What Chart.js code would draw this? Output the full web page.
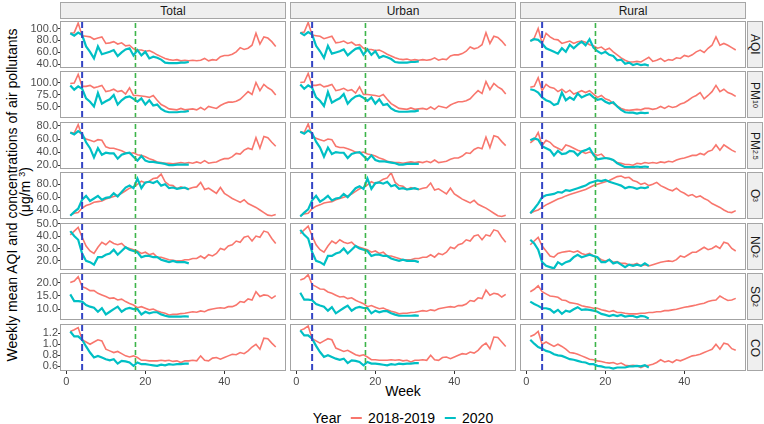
<!DOCTYPE html>
<html>
<head>
<meta charset="utf-8">
<script src="https://cdn.jsdelivr.net/npm/chart.js@4.4.1/dist/chart.umd.min.js"></script>
<style>
  body { margin: 0; width: 764px; height: 424px; background: #fff; position: relative; overflow: hidden;
         font-family: 'Liberation Sans', Arial, sans-serif; color: #000; }
  canvas { position: absolute; }
  .strip { position: absolute; background: #EFEFEF; border: 1px solid #A6A6A6; box-sizing: border-box;
           color: #1A1A1A; font-size: 12px; display: flex; align-items: center; justify-content: center; }
  .strip.side { writing-mode: vertical-rl; }
  .strip sub { font-size: 7px; }
  .title { position: absolute; transform: translate(-50%, -50%); white-space: nowrap; font-size: 14px; line-height: 16px; }
  .rot { transform: translate(-50%, -50%) rotate(-90deg); }
  .sup { position: relative; top: -5px; font-size: 9px; }
  #legend { position: absolute; left: 403px; top: 418px; transform: translate(-50%, -50%); display: flex;
            align-items: center; font-size: 14px; white-space: nowrap; }
  #legend .key { display: inline-block; width: 11px; height: 2px; margin: 0 6px 0 10px; }
</style>
</head>
<body>
<div class="title rot" style="left:12px; top:195px;">Weekly mean AQI and concentrations of air pollutants</div>
<div class="title rot" style="left:26px; top:192px;">(μg/m <span class="sup">3</span>)</div>
<div class="title" style="left:403px; top:391px;">Week</div>
<div id="legend"></div>
<script>
const areas = ['Total', 'Urban', 'Rural'];
const pollutants = ['AQI', 'PM10', 'PM2.5', 'O3', 'NO2', 'SO2', 'CO'];
const years = ['2018-2019', '2020'];
const weekTicks = [0, 20, 40];
const eventWeeks = [4, 17.5];

const aqiTicks = [40, 60, 80, 100];
const pm10Ticks = [50, 75, 100];
const pm25Ticks = [20, 40, 60, 80];
const o3Ticks = [40, 60, 80];
const no2Ticks = [20, 30, 40, 50];
const so2Ticks = [10, 15, 20];
const coTicks = [0.6, 0.8, 1.0, 1.2];

// weekly means, week 1..53 (2018-2019) and week 1..31 (2020)
const totalAqi19 = [92,93,109,88,87,86,82,84,86,75, 76,78,74,76,71,72,66,64,64,62, 63,60,56,53,50,48,47,48,46,47, 46,47,46,47,50,46,48,47,53,55, 55,57,61,68,65,67,72,92,74,86, 84,78,70];
const totalAqi20 = [92,88,93,89,70,61,50,70,57,59, 61,64,54,60,65,67,55,64,55,61, 50,53,51,48,43,42,42,42,43,43, 44];
const totalPm1019 = [99,100,118,93,93,95,90,92,95,82, 84,87,82,84,77,90,74,74,73,72, 70,74,64,55,51,46,45,44,47,44, 45,46,44,49,44,51,49,47,53,57, 60,60,62,66,74,82,76,101,84,97, 90,85,75];
const totalPm1020 = [95,86,93,88,68,61,51,79,57,62, 66,75,55,64,70,72,67,61,68,55, 64,53,55,46,41,39,39,39,40,40, 42];
const totalPm2519 = [70,69,82,64,60,58,56,59,58,48, 46,46,44,42,39,38,39,36,35,33, 30,28,25,24,23,23,22,23,24,23, 24,23,25,23,27,23,24,25,28,30, 30,33,38,37,43,46,44,62,46,64, 62,55,49];
const totalPm2520 = [70,67,72,68,55,46,32,46,36,39, 38,38,30,36,38,39,33,27,34,27, 25,25,24,23,22,20,20,21,21,21, 21];
const totalO319 = [32,35,36,43,47,49,52,53,54,57, 59,61,63,66,70,74,76,80,85,82, 85,89,90,96,84,79,78,73,76,74, 73,75,76,83,72,74,70,66,75,66, 62,58,55,52,56,50,47,44,40,36, 32,31,33];
const totalO320 = [31,37,42,56,62,54,58,62,56,59, 60,66,61,68,75,78,74,89,74,83, 84,82,85,78,80,74,75,73,74,75, 72];
const totalNo219 = [41,44,47,39,32,28,26,31,35,33, 36,34,33,34,31,30,29,28,26,27, 25,26,23,23,22,21,20.5,20,20,21, 21,22,22,24,22,25,24,26,30,29, 32,33,36,35,39,40,36,40,39,44, 43,38,34];
const totalNo220 = [44,40,37,26,20,19,17,23,23,25, 26,29,25,28,31,29,28,27,23,24, 24,23,23,21,20,19,20,19,19,19, 18];
const totalSo219 = [20,20.6,22.2,18.5,17.9,17,17,16,15.4,14.8, 14.1,14.3,13.5,13.8,12.9,12.2,11.6,10.6,11,10.4, 9.8,10.1,9.4,8.9,8.5,7.9,8.1,8.1,8.4,8.5, 8.8,9.1,8.9,9.4,9.1,9.8,10.1,10.4,10.6,10.4, 11,11,11.6,12.9,12.6,13.9,13.5,16.6,14.8,15.4, 15.2,14.1,15.1];
const totalSo220 = [15.6,13.1,13.1,12.9,11.6,11,10.6,9.1,10.4,8.1, 9.1,10.1,11,9.1,10.1,10.5,10.1,10.1,8.1,9.1, 8.5,8.9,8.9,8.1,7.6,7.3,7.3,7.3,7.3,7.4, 7.3];
const totalCo19 = [1.23,1.26,1.30,1.08,1.04,1.0,1.04,1.08,1.06,0.91, 0.88,0.85,0.87,0.83,0.79,0.77,0.79,0.76,0.71,0.71, 0.70,0.70,0.70,0.71,0.70,0.71,0.69,0.70,0.67,0.70, 0.70,0.71,0.70,0.79,0.71,0.70,0.75,0.76,0.73,0.76, 0.79,0.82,0.81,0.85,0.83,0.88,0.95,1.0,0.91,1.11, 1.10,1.02,0.95];
const totalCo20 = [1.23,1.14,1.14,1.08,0.96,0.85,0.76,0.79,0.76,0.73, 0.71,0.73,0.65,0.70,0.69,0.67,0.61,0.67,0.64,0.64, 0.63,0.62,0.61,0.63,0.62,0.64,0.63,0.64,0.64,0.65, 0.65];

const urbanAqi19 = [93,94,110,89,88,87,83,85,87,76, 77,79,75,77,72,73,67,65,65,63, 64,61,57,54,51,49,48,49,47,48, 47,48,47,48,51,47,49,48,54,56, 56,58,62,69,66,68,73,93,75,87, 85,79,71];
const urbanAqi20 = [93,89,94,90,71,62,51,71,58,60, 62,65,55,61,66,68,56,65,56,62, 51,54,52,49,44,43,43,43,44,44, 45];
const urbanPm1019 = [101,102,120,95,95,97,92,94,97,84, 86,89,84,86,79,92,76,76,75,74, 72,76,66,57,52,47,46,45,48,45, 46,47,45,50,45,52,50,48,54,58, 61,61,63,67,76,84,78,103,86,99, 92,87,77];
const urbanPm1020 = [97,88,95,90,70,63,52,81,59,64, 68,77,57,66,72,74,69,63,70,57, 66,54,56,47,42,40,40,40,41,41, 43];
const urbanPm2519 = [71,70,83,65,61,59,57,60,59,49, 47,47,45,43,40,39,40,37,36,34, 31,29,26,25,24,24,23,24,25,24, 25,24,26,24,28,24,25,26,29,31, 31,34,39,38,44,47,45,63,47,65, 63,56,50];
const urbanPm2520 = [71,68,73,69,56,47,33,47,37,40, 39,39,31,37,39,40,34,28,35,28, 26,26,25,24,23,21,21,22,22,22, 22];
const urbanO319 = [31,34,35,42,46,48,51,52,53,56, 58,60,62,65,69,73,75,79,84,81, 84,88,90,98,83,78,77,72,75,73, 72,74,75,82,71,73,69,65,74,65, 61,57,54,51,55,49,46,43,39,35, 31,30,32];
const urbanO320 = [30,36,41,55,62,53,57,62,55,58, 59,65,60,67,74,77,73,89,73,82, 83,81,84,77,79,73,74,72,73,74, 72];
const urbanNo219 = [42,45,48,40,33,29,27,32,36,34, 37,35,34,35,32,31,30,29,27,28, 26,27,24,24,23,22,21,21,21,22, 22,23,23,25,23,26,25,27,31,30, 33,34,37,36,40,41,37,41,40,45, 44,39,35];
const urbanNo220 = [45,41,38,27,20,19,17,24,24,26, 27,30,26,29,32,30,29,28,24,25, 25,24,24,22,21,20,21,20,20,20, 19];
const urbanSo219 = [21,21.5,23,19.2,18.5,17.6,17.5,16.5,16,15.3, 14.6,14.8,14,14.3,13.4,12.7,12.1,11,11.4,10.8, 10.2,10.5,9.8,9.3,8.9,8.3,8.5,8.5,8.8,8.9, 9.2,9.5,9.3,9.8,9.5,10.2,10.5,10.8,11,10.8, 11.4,11.4,12,13.3,13,14.3,14,17.2,15.3,16, 15.7,14.6,15.6];
const urbanSo220 = [16.2,13.6,13.6,13.4,12,11.4,11,9.5,10.8,8.5, 9.5,10.5,11.4,9.5,10.5,10.9,10.5,10.5,8.5,9.5, 8.9,9.3,9.3,8.5,8,7.6,7.6,7.6,7.6,7.7, 7.6];
const urbanCo19 = [1.25,1.28,1.33,1.10,1.06,1.02,1.06,1.10,1.08,0.93, 0.90,0.87,0.89,0.85,0.81,0.79,0.81,0.77,0.72,0.72, 0.71,0.71,0.71,0.72,0.71,0.72,0.70,0.71,0.68,0.71, 0.71,0.72,0.71,0.80,0.72,0.71,0.76,0.77,0.74,0.77, 0.80,0.83,0.82,0.86,0.84,0.89,0.97,1.02,0.92,1.13, 1.12,1.04,0.96];
const urbanCo20 = [1.25,1.16,1.16,1.10,0.97,0.86,0.77,0.80,0.77,0.74, 0.72,0.74,0.66,0.71,0.70,0.68,0.62,0.68,0.65,0.65, 0.64,0.63,0.62,0.64,0.63,0.65,0.64,0.65,0.65,0.66, 0.66];

const ruralAqi19 = [79,84,100,75,92,86,82,81,75,77, 79,75,78,79,77,73,71,67,69,64, 67,61,56,51,47,44,44,45,44,48, 52,45,47,50,45,48,47,51,50,55, 53,56,61,64,60,67,72,86,72,75, 72,68,64];
const ruralAqi20 = [79,82,81,75,67,64,61,58,67,61, 73,67,73,78,72,82,68,62,58,61, 56,54,47,48,41,43,39,41,39,40, 38];
const ruralPm1019 = [91,93,111,84,97,91,89,82,87,80, 85,77,80,84,80,84,77,70,74,67, 64,57,52,47,44,43,44,45,44,47, 47,45,47,51,47,52,49,51,56,59, 64,70,74,80,67,74,82,95,82,87, 80,77,72];
const ruralPm1020 = [87,85,80,70,64,61,54,57,80,64, 70,65,78,70,74,77,70,65,67,61, 57,60,51,44,39,38,38,36,38,37, 38];
const ruralPm2519 = [54,59,70,50,58,55,49,46,43,51, 49,46,43,41,38,40,38,35,37,31, 30,28,24,23,21,21,20,23,22,24, 23,24,23,25,24,26,25,28,30,31, 33,35,35,38,36,41,43,51,43,51, 47,43,40];
const ruralPm2520 = [58,61,59,49,46,43,35,42,37,38, 42,41,35,41,43,46,36,29,30,31, 30,28,23,20,17,17,17,18,17,18, 17];
const ruralO319 = [35,38,40,44,48,51,54,57,59,62, 64,66,68,70,72,75,78,80,82,84, 86,89,92,93,90,91,86,84,80,82, 78,80,83,78,75,72,70,74,69,66, 62,64,60,62,58,55,50,47,44,40, 37,36,39];
const ruralO320 = [35,42,50,60,63,64,65,68,67,71, 70,72,74,76,78,82,84,86,85,87, 84,82,80,78,74,76,75,73,75,74, 76];
const ruralNo219 = [33,36,39,32,28,24,23,26,27,27.5, 28,27,28,26,25,26,24,23,21,20, 21,19,19.5,18,18,17,17,18,16,17, 16,17,18,19,19.5,20,19.5,21,24,23, 25,27,27,29,31,29,30,32,30,35, 34,30,28];
const ruralNo220 = [37,34,29,19,16,15,14,19,17,19, 20,23,25,23,24,25,24,23,19,19, 21,18,19,17,15,17,16,17,16,18, 16];
const ruralSo219 = [16.6,17.5,18.8,16.6,15.8,15,14.8,14.5,13.5,13.3, 12.5,12.3,12,11.3,11,10.8,10.4,10.4,9.8,9.5, 9.1,9.5,8.8,8.8,8.5,8.3,8.3,8.3,8.5,8.5, 8.8,8.8,9.1,9.1,9.5,9.5,9.8,10,10.4,10.8, 11,11.3,11.6,12,12.3,12.9,13.3,13.5,15,14.1, 13.3,13.5,14.1];
const ruralSo220 = [12.9,12,11.3,10.4,10.4,10,8.8,9.8,8.3,9.5, 9.1,10,10.8,9.8,10,9.8,9.5,9.1,8.3,7.9, 7.5,7.9,7.5,7.9,7.3,7.5,7.5,7,7.5,7.3, 6.6];
const ruralCo19 = [1.14,1.17,1.23,1.0,1.04,1.0,0.96,1.0,0.96,0.91, 0.85,0.84,0.82,0.79,0.76,0.73,0.72,0.70,0.69,0.67, 0.66,0.67,0.64,0.66,0.62,0.61,0.62,0.61,0.58,0.61, 0.62,0.64,0.67,0.72,0.68,0.70,0.67,0.72,0.70,0.73, 0.76,0.79,0.80,0.82,0.85,0.88,0.91,1.0,0.91,1.02, 1.0,0.92,0.89];
const ruralCo20 = [1.08,1.01,0.95,0.92,0.88,0.86,0.82,0.80,0.79,0.76, 0.73,0.72,0.70,0.68,0.67,0.64,0.64,0.61,0.60,0.58, 0.58,0.56,0.58,0.58,0.58,0.60,0.60,0.61,0.60,0.62, 0.58];

// lookup tables built from the arrays above
const yTicks = [aqiTicks, pm10Ticks, pm25Ticks, o3Ticks, no2Ticks, so2Ticks, coTicks];
const series = {
  Total: [[totalAqi19, totalAqi20], [totalPm1019, totalPm1020], [totalPm2519, totalPm2520], [totalO319, totalO320],
          [totalNo219, totalNo220], [totalSo219, totalSo220], [totalCo19, totalCo20]],
  Urban: [[urbanAqi19, urbanAqi20], [urbanPm1019, urbanPm1020], [urbanPm2519, urbanPm2520], [urbanO319, urbanO320],
          [urbanNo219, urbanNo220], [urbanSo219, urbanSo220], [urbanCo19, urbanCo20]],
  Rural: [[ruralAqi19, ruralAqi20], [ruralPm1019, ruralPm1020], [ruralPm2519, ruralPm2520], [ruralO319, ruralO320],
          [ruralNo219, ruralNo220], [ruralSo219, ruralSo220], [ruralCo19, ruralCo20]]
};

// layout
const colLeft = [60, 290, 520];
const plotW = 226, plotH = 47;
const rowTop = r => Math.round(20.5 + r * 50.55);
const yRange = [[34, 112.5], [27, 125], [14.2, 86], [26, 99.2], [12.7, 50.5], [6, 23.6], [0.517, 1.365]];
const PAD = 6;
const RED = '#F8766D', CYAN = '#00BFC4';
const tickFont = { family: "'Liberation Sans', Arial, sans-serif", size: 11 };

const panelBorder = {
  id: 'panelBorder',
  afterDraw(chart) {
    const { ctx, chartArea: a } = chart;
    ctx.save();
    ctx.strokeStyle = '#A3A3A3';
    ctx.lineWidth = 1;
    ctx.strokeRect(Math.round(a.left) + 0.5, Math.round(a.top) + 0.5, Math.round(a.width) - 1, Math.round(a.height) - 1);
    ctx.restore();
  }
};

function addStrip(html, left, top, width, height, side) {
  const d = document.createElement('div');
  d.className = 'strip' + (side ? ' side' : '');
  d.style.left = left + 'px'; d.style.top = top + 'px';
  d.style.width = width + 'px'; d.style.height = height + 'px';
  d.innerHTML = html;
  document.body.appendChild(d);
}

areas.forEach((area, c) => addStrip(area, colLeft[c], 2, plotW, 17, false));
pollutants.forEach((p, r) => addStrip(p.replace(/^([A-Z]+)([\d.]+)$/, '$1<sub>$2</sub>'), 747, rowTop(r), 16, plotH, true));

areas.forEach((area, c) => pollutants.forEach((pol, r) => {
  const isLeft = c === 0, isBottom = r === pollutants.length - 1;
  const [ymin, ymax] = yRange[r];
  const [old, cur] = series[area][r];
  const cv = document.createElement('canvas');
  const left = isLeft ? 0 : colLeft[c] - PAD;
  cv.width = isLeft ? colLeft[0] + plotW + PAD : plotW + 2 * PAD;
  cv.height = plotH + 2 * PAD + (isBottom ? 20 : 0);
  cv.style.left = left + 'px';
  cv.style.top = (rowTop(r) - PAD) + 'px';
  document.body.appendChild(cv);

  const vline = (wk, color, dash, width) => ({
    data: [{ x: wk, y: ymin }, { x: wk, y: ymax }],
    borderColor: color, borderDash: dash, borderWidth: width, pointRadius: 0
  });

  new Chart(cv, {
    type: 'line',
    data: {
      datasets: [
        vline(eventWeeks[0], '#3344C4', [7, 3], 2),
        vline(eventWeeks[1], '#3DB54A', [5, 3], 1.6),
        { label: years[1], data: cur.map((v, i) => ({ x: i + 1, y: v })), borderColor: CYAN, borderWidth: 2.2, pointRadius: 0 },
        { label: years[0], data: old.map((v, i) => ({ x: i + 1, y: v })), borderColor: RED, borderWidth: 1.6, pointRadius: 0 }
      ]
    },
    options: {
      responsive: false,
      animation: false,
      devicePixelRatio: 1,
      layout: { padding: { top: PAD, bottom: PAD, left: isLeft ? 0 : PAD, right: PAD } },
      plugins: { legend: { display: false }, tooltip: { enabled: false } },
      elements: { line: { tension: 0 } },
      scales: {
        x: {
          type: 'linear', min: -1.6, max: 55.6, display: isBottom,
          afterBuildTicks: a => { a.ticks = weekTicks.map(v => ({ value: v })); },
          afterFit: a => { if (isBottom) { a.height = 20; a.paddingLeft = 0; a.paddingRight = 0; } },
          grid: { drawOnChartArea: false, tickLength: 3, tickColor: '#333' },
          border: { display: false },
          ticks: { font: tickFont, color: '#4D4D4D', padding: 1, maxRotation: 0, autoSkip: false }
        },
        y: {
          type: 'linear', min: ymin, max: ymax, display: isLeft,
          afterBuildTicks: a => { a.ticks = yTicks[r].map(v => ({ value: v })); },
          afterFit: a => { if (isLeft) { a.width = colLeft[0]; a.paddingTop = 0; a.paddingBottom = 0; } },
          grid: { drawOnChartArea: false, tickLength: 2, tickColor: '#333' },
          border: { display: false },
          ticks: { font: tickFont, color: '#4D4D4D', padding: 0, autoSkip: false, callback: v => v.toFixed(1) }
        }
      }
    },
    plugins: [panelBorder]
  });
}));

// shared legend
const legend = document.getElementById('legend');
legend.innerHTML = '<span>Year</span>' +
  years.map((y, i) => '<span class="key" style="background:' + (i ? CYAN : RED) + '"></span><span>' + y + '</span>').join('');
</script>
</body>
</html>
